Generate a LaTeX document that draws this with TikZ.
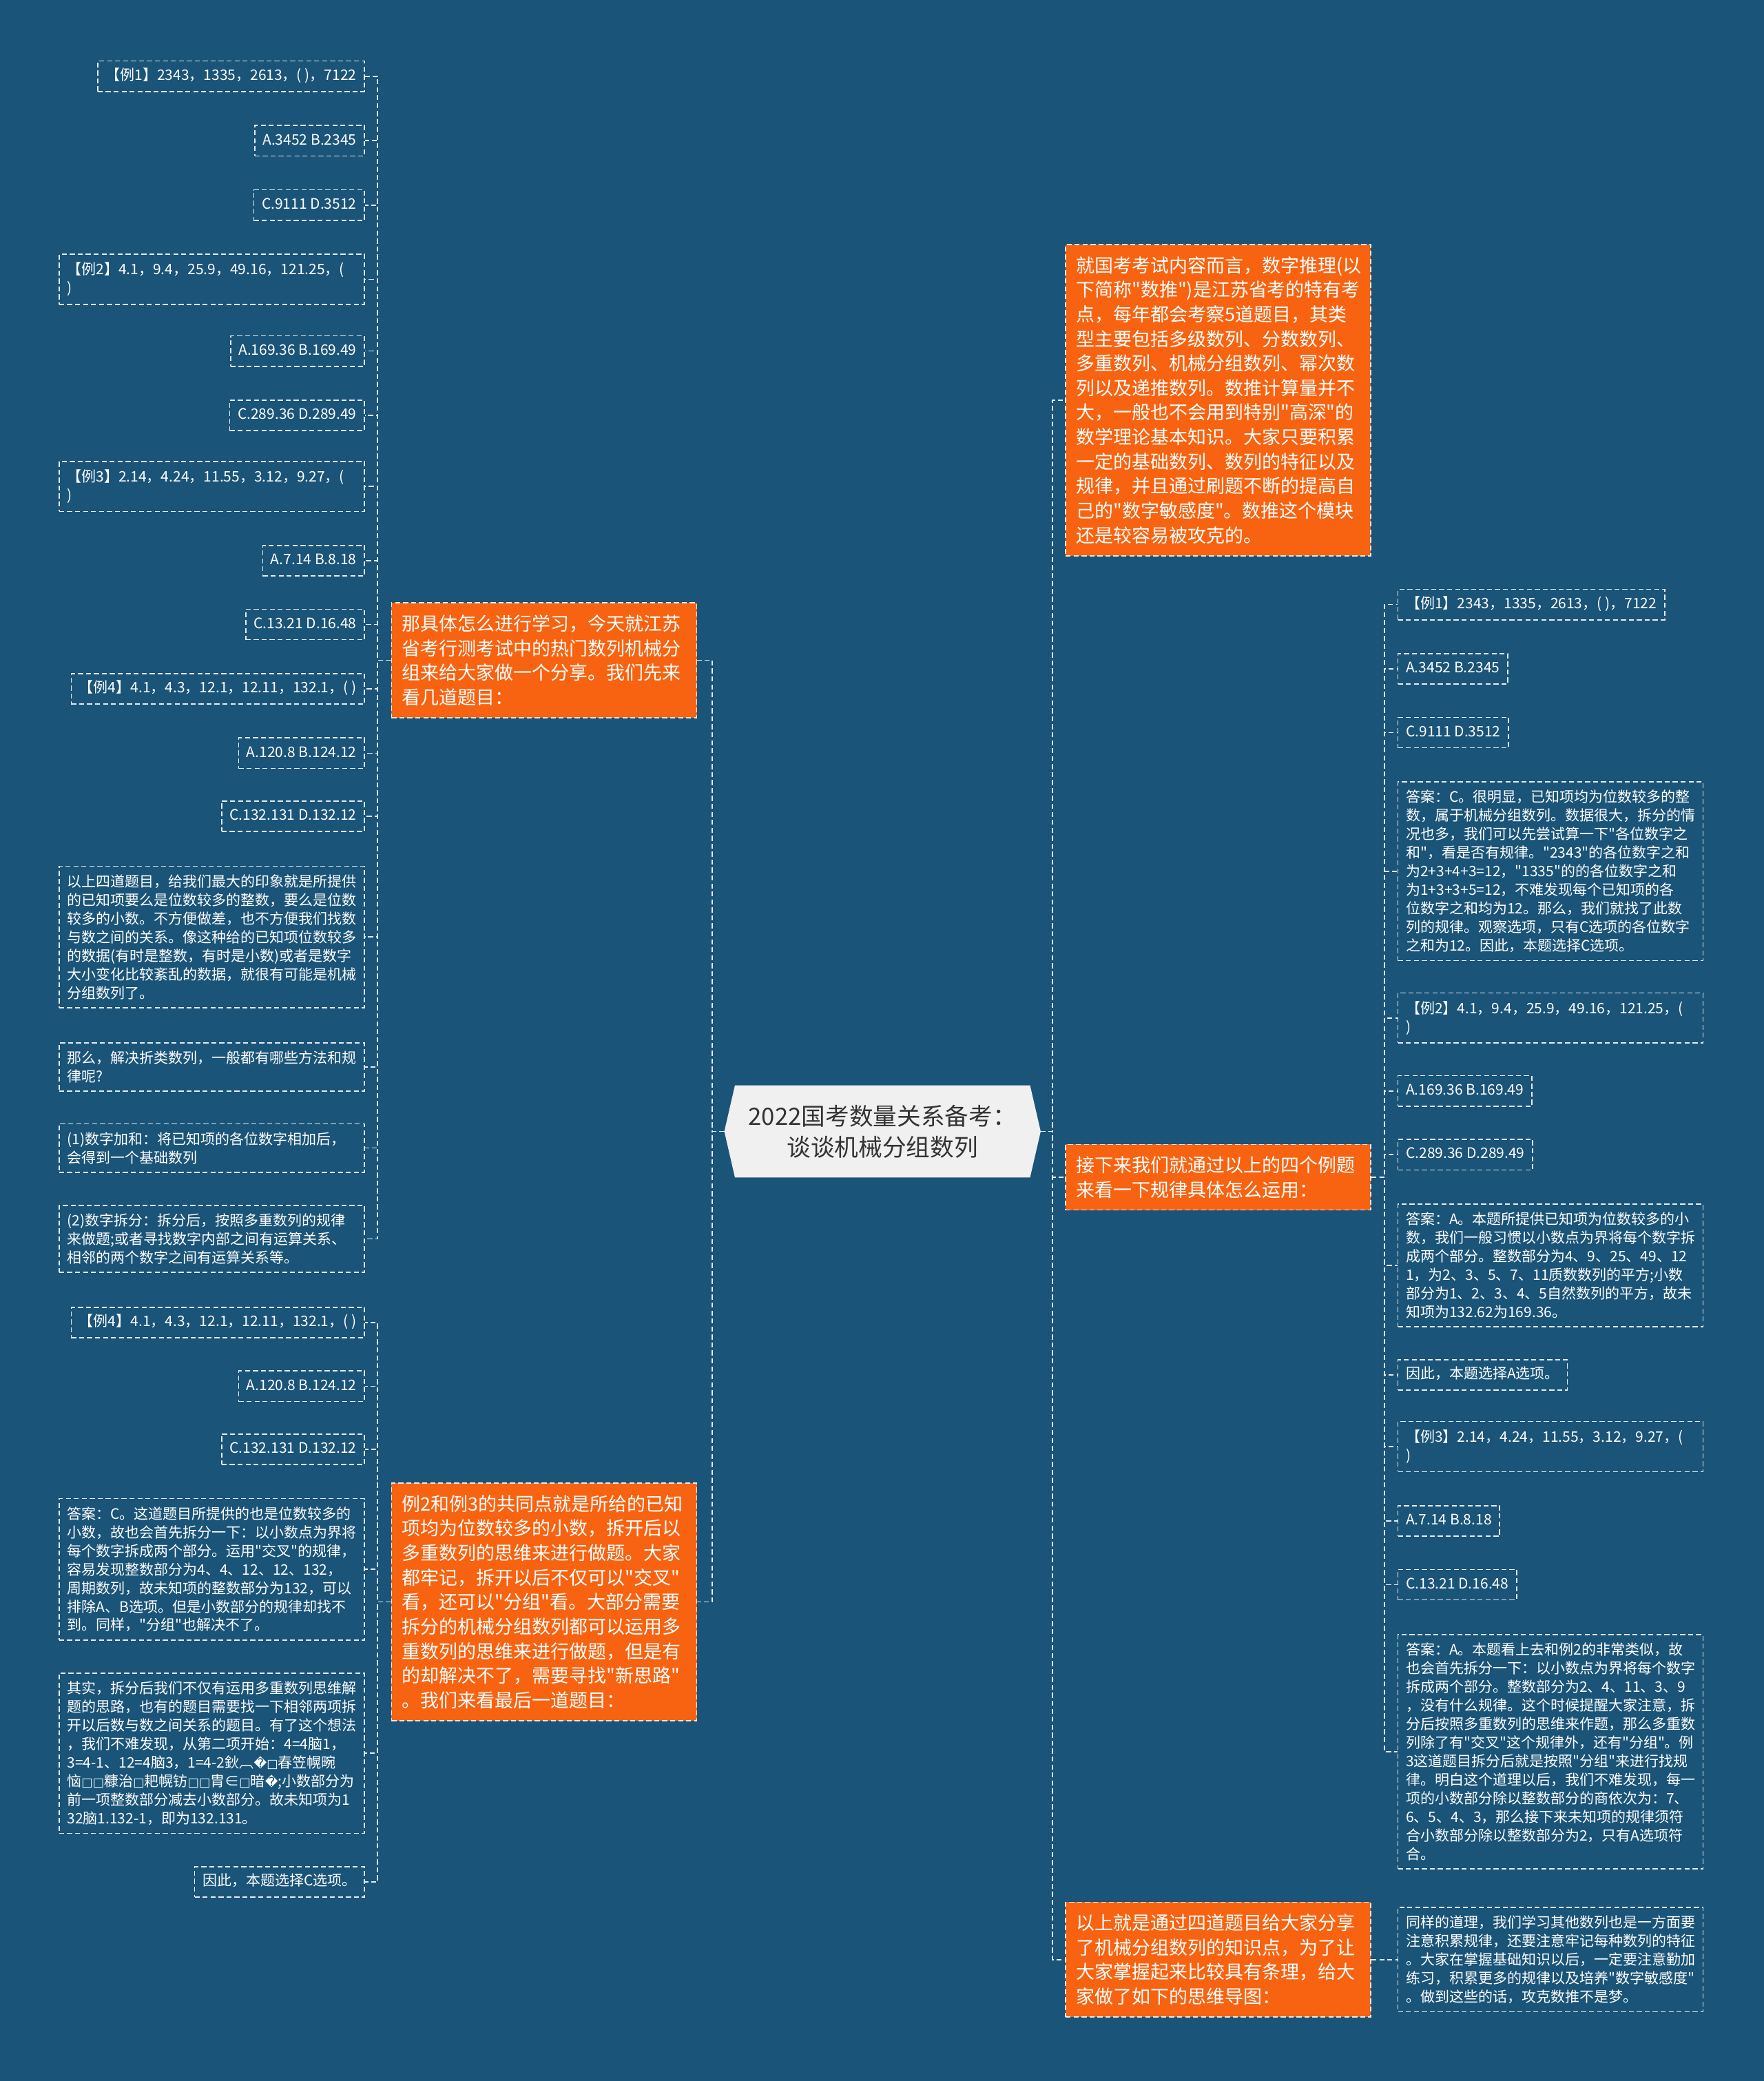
\documentclass[tikz,border=0pt]{standalone}
\usepackage{fontspec}
\newfontfamily\cjkfont{Noto Sans CJK SC}
\newfontfamily\dejavu{DejaVu Sans}
\usetikzlibrary{calc,backgrounds}
\definecolor{bgblue}{HTML}{1A5478}
\definecolor{orangefill}{HTML}{F86311}
\definecolor{centerfill}{HTML}{F0F0F0}
\definecolor{centertext}{HTML}{333333}
\definecolor{linecol}{HTML}{E6ECF0}
\newcommand{\tofu}{{\dejavu\fontsize{9}{14}\selectfont □}}
\newcommand{\repl}{{\dejavu\fontsize{9.5}{14}\selectfont �}}
\tikzset{
  dashbox/.style={draw=linecol, line width=0.8pt, dash pattern=on 3.8pt off 2.2pt},
  leafbase/.style={dashbox, text=white, font=\cjkfont\fontsize{10.9}{14}\selectfont, inner xsep=6pt},
  leafone/.style={leafbase, text height=8.6pt, text depth=2.6pt, inner ysep=5.9pt},
  leafwide/.style={leafbase, inner ysep=6.2pt, text width=218pt, align=left},
  topic/.style={dashbox, fill=orangefill, text=white, font=\cjkfont\fontsize{14}{18.5}\selectfont, inner xsep=8pt, inner ysep=9pt, text width=214pt, align=left},
  root/.style={text=centertext, font=\cjkfont\fontsize{18}{23.4}\selectfont, align=center, minimum width=222pt, minimum height=69pt, inner sep=0pt},
  conn/.style={draw=linecol, line width=0.9pt, dash pattern=on 3.8pt off 2.2pt},
}
\begin{document}
\begin{tikzpicture}[x=1pt,y=-1pt]
\useasboundingbox (0,0) rectangle (1329,1568);
\begin{scope}[on background layer]
\fill[bgblue] (0,0) rectangle (1329,1568);
\end{scope}

% root
\node[root] (root) at (665,852.5) {2022国考数量关系备考：\\谈谈机械分组数列};
\coordinate (rW) at ($(root.west)+(-8,0)$);
\coordinate (rE) at ($(root.east)+(8,0)$);
\begin{scope}[on background layer]
\fill[centerfill] (rW) -- (root.north west) -- (root.north east) -- (rE) -- (root.south east) -- (root.south west) -- cycle;
\end{scope}

% topics
\node[topic] (o1) at (410,497.5) {那具体怎么进行学习，今天就江苏\\省考行测考试中的热门数列机械分\\组来给大家做一个分享。我们先来\\看几道题目：};
\node[topic] (o2) at (410,1207) {例2和例3的共同点就是所给的已知\\项均为位数较多的小数，拆开后以\\多重数列的思维来进行做题。大家\\都牢记，拆开以后不仅可以"交叉"\\看，还可以"分组"看。大部分需要\\拆分的机械分组数列都可以运用多\\重数列的思维来进行做题，但是有\\的却解决不了，需要寻找"新思路"\\。我们来看最后一道题目：};
\node[topic] (oA) at (918,301.5) {就国考考试内容而言，数字推理(以\\下简称"数推")是江苏省考的特有考\\点，每年都会考察5道题目，其类\\型主要包括多级数列、分数数列、\\多重数列、机械分组数列、幂次数\\列以及递推数列。数推计算量并不\\大，一般也不会用到特别"高深"的\\数学理论基本知识。大家只要积累\\一定的基础数列、数列的特征以及\\规律，并且通过刷题不断的提高自\\己的"数字敏感度"。数推这个模块\\还是较容易被攻克的。};
\node[topic] (oB) at (918,887) {接下来我们就通过以上的四个例题\\来看一下规律具体怎么运用：};
\node[topic] (oC) at (918,1476.5) {以上就是通过四道题目给大家分享\\了机械分组数列的知识点，为了让\\大家掌握起来比较具有条理，给大\\家做了如下的思维导图：};

% left group 1
\node[leafone,anchor=east] (L1) at (275,57.5) {【例1】2343，1335，2613，( )，7122};
\node[leafone,anchor=east] (L2) at (275,106) {A.3452 B.2345};
\node[leafone,anchor=east] (L3) at (275,154.5) {C.9111 D.3512};
\node[leafwide,anchor=east] (L4) at (275,210.5) {【例2】4.1，9.4，25.9，49.16，121.25，(\\)};
\node[leafone,anchor=east] (L5) at (275,264.5) {A.169.36 B.169.49};
\node[leafone,anchor=east] (L6) at (275,313) {C.289.36 D.289.49};
\node[leafwide,anchor=east] (L7) at (275,366.5) {【例3】2.14，4.24，11.55，3.12，9.27，(\\)};
\node[leafone,anchor=east] (L8) at (275,422.5) {A.7.14 B.8.18};
\node[leafone,anchor=east] (L9) at (275,470.5) {C.13.21 D.16.48};
\node[leafone,anchor=east] (L10) at (275,519) {【例4】4.1，4.3，12.1，12.11，132.1，( )};
\node[leafone,anchor=east] (L11) at (275,567.5) {A.120.8 B.124.12};
\node[leafone,anchor=east] (L12) at (275,615) {C.132.131 D.132.12};
\node[leafwide,anchor=east] (L13) at (275,706) {以上四道题目，给我们最大的印象就是所提供\\的已知项要么是位数较多的整数，要么是位数\\较多的小数。不方便做差，也不方便我们找数\\与数之间的关系。像这种给的已知项位数较多\\的数据(有时是整数，有时是小数)或者是数字\\大小变化比较紊乱的数据，就很有可能是机械\\分组数列了。};
\node[leafwide,anchor=east] (L14) at (275,804) {那么，解决折类数列，一般都有哪些方法和规\\律呢?};
\node[leafwide,anchor=east] (L15) at (275,865) {(1)数字加和：将已知项的各位数字相加后，\\会得到一个基础数列};
\node[leafwide,anchor=east] (L16) at (275,933.5) {(2)数字拆分：拆分后，按照多重数列的规律\\来做题;或者寻找数字内部之间有运算关系、\\相邻的两个数字之间有运算关系等。};

% left group 2
\node[leafone,anchor=east] (M1) at (275,996.5) {【例4】4.1，4.3，12.1，12.11，132.1，( )};
\node[leafone,anchor=east] (M2) at (275,1044.5) {A.120.8 B.124.12};
\node[leafone,anchor=east] (M3) at (275,1092) {C.132.131 D.132.12};
\node[leafwide,anchor=east] (M4) at (275,1182.5) {答案：C。这道题目所提供的也是位数较多的\\小数，故也会首先拆分一下：以小数点为界将\\每个数字拆成两个部分。运用"交叉"的规律，\\容易发现整数部分为4、4、12、12、132，\\周期数列，故未知项的整数部分为132，可以\\排除A、B选项。但是小数部分的规律却找不\\到。同样，"分组"也解决不了。};
\node[leafwide,anchor=east] (M5) at (275,1321) {其实，拆分后我们不仅有运用多重数列思维解\\题的思路，也有的题目需要找一下相邻两项拆\\开以后数与数之间关系的题目。有了这个想法\\，我们不难发现，从第二项开始：4=4脑1，\\3=4-1、12=4脑3，1=4-2鈥︹\repl\tofu 春笠幌畹\\恼\tofu\tofu 糠治\tofu 耙幌钫\tofu\tofu 胄∈\tofu 暗\repl;小数部分为\\前一项整数部分减去小数部分。故未知项为1\\32脑1.132-1，即为132.131。};
\node[leafone,anchor=east] (M6) at (275,1418) {因此，本题选择C选项。};

% right group
\node[leafone,anchor=west] (R1) at (1053,455.5) {【例1】2343，1335，2613，( )，7122};
\node[leafone,anchor=west] (R2) at (1053,504) {A.3452 B.2345};
\node[leafone,anchor=west] (R3) at (1053,552) {C.9111 D.3512};
\node[leafwide,anchor=west] (R4) at (1053,656.5) {答案：C。很明显，已知项均为位数较多的整\\数，属于机械分组数列。数据很大，拆分的情\\况也多，我们可以先尝试算一下"各位数字之\\和"，看是否有规律。"2343"的各位数字之和\\为2+3+4+3=12，"1335"的的各位数字之和\\为1+3+3+5=12，不难发现每个已知项的各\\位数字之和均为12。那么，我们就找了此数\\列的规律。观察选项，只有C选项的各位数字\\之和为12。因此，本题选择C选项。};
\node[leafwide,anchor=west] (R5) at (1053,767) {【例2】4.1，9.4，25.9，49.16，121.25，(\\)};
\node[leafone,anchor=west] (R6) at (1053,822) {A.169.36 B.169.49};
\node[leafone,anchor=west] (R7) at (1053,870) {C.289.36 D.289.49};
\node[leafwide,anchor=west] (R8) at (1053,953.5) {答案：A。本题所提供已知项为位数较多的小\\数，我们一般习惯以小数点为界将每个数字拆\\成两个部分。整数部分为4、9、25、49、12\\1，为2、3、5、7、11质数数列的平方;小数\\部分为1、2、3、4、5自然数列的平方，故未\\知项为132.62为169.36。};
\node[leafone,anchor=west] (R9) at (1053,1036) {因此，本题选择A选项。};
\node[leafwide,anchor=west] (R10) at (1053,1090) {【例3】2.14，4.24，11.55，3.12，9.27，(\\)};
\node[leafone,anchor=west] (R11) at (1053,1146) {A.7.14 B.8.18};
\node[leafone,anchor=west] (R12) at (1053,1194) {C.13.21 D.16.48};
\node[leafwide,anchor=west] (R13) at (1053,1320) {答案：A。本题看上去和例2的非常类似，故\\也会首先拆分一下：以小数点为界将每个数字\\拆成两个部分。整数部分为2、4、11、3、9\\，没有什么规律。这个时候提醒大家注意，拆\\分后按照多重数列的思维来作题，那么多重数\\列除了有"交叉"这个规律外，还有"分组"。例\\3这道题目拆分后就是按照"分组"来进行找规\\律。明白这个道理以后，我们不难发现，每一\\项的小数部分除以整数部分的商依次为：7、\\6、5、4、3，那么接下来未知项的规律须符\\合小数部分除以整数部分为2，只有A选项符\\合。};
\node[leafwide,anchor=west] (R14) at (1053,1476.5) {同样的道理，我们学习其他数列也是一方面要\\注意积累规律，还要注意牢记每种数列的特征\\。大家在掌握基础知识以后，一定要注意勤加\\练习，积累更多的规律以及培养"数字敏感度"\\。做到这些的话，攻克数推不是梦。};

% connectors
\foreach \n in {o1,o2} \draw[conn] (rW) -- ++(-9,0) |- (\n.east);
\foreach \n in {oA,oB,oC} \draw[conn] (rE) -- ++(9,0) |- (\n.west);
\foreach \i in {1,...,16} \draw[conn] (o1.west) -- ++(-10,0) |- (L\i.east);
\foreach \i in {1,...,6} \draw[conn] (o2.west) -- ++(-10,0) |- (M\i.east);
\foreach \i in {1,...,13} \draw[conn] (oB.east) -- ++(10,0) |- (R\i.west);
\draw[conn] (oC.east) -- (R14.west);
\end{tikzpicture}
\end{document}
